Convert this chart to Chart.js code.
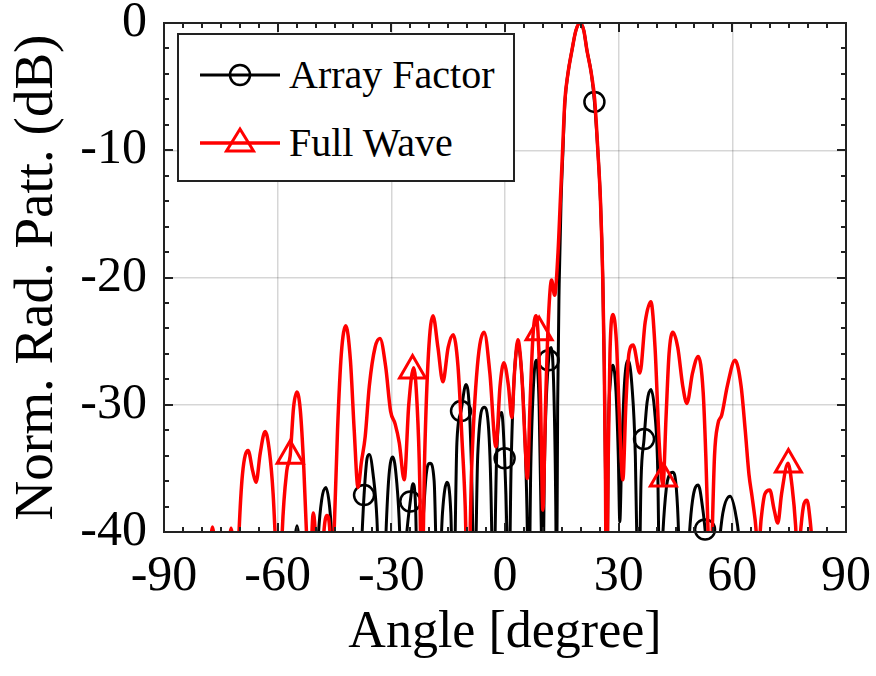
<!DOCTYPE html>
<html>
<head>
<meta charset="utf-8">
<script src="https://cdn.jsdelivr.net/npm/chart.js@4.4.1/dist/chart.umd.min.js"></script>
<style>
  html, body { margin:0; padding:0; background:#fff; }
  #wrap { position:relative; width:876px; height:676px; }
  #legend {
    position:absolute; left:177px; top:33px; width:338px; height:149px;
    box-sizing:border-box; border:2px solid #222; background:#fff;
    font-family:"Liberation Serif","Times New Roman",serif; font-size:40px; color:#000;
  }
  #legend .item { position:absolute; left:21px; height:40px; display:flex; align-items:center; white-space:nowrap; }
  #legend .item span { margin-left:7px; line-height:40px; }
</style>
</head>
<body>
<div id="wrap">
  <canvas id="chart" width="876" height="676"></canvas>
  <div id="legend">
    <div class="item" style="top:20px">
      <svg width="82" height="40"><line x1="0" y1="20" x2="80" y2="20" stroke="#000" stroke-width="3"/><circle cx="40" cy="20" r="10" fill="none" stroke="#000" stroke-width="2.5"/></svg>
      <span>Array Factor</span>
    </div>
    <div class="item" style="top:88px">
      <svg width="82" height="40"><line x1="0" y1="20" x2="80" y2="20" stroke="#f00" stroke-width="3.5"/><polygon points="40,6 53.5,28 26.5,28" fill="none" stroke="#f00" stroke-width="3"/></svg>
      <span>Full Wave</span>
    </div>
  </div>
</div>
<script>
// tick labels
const xTicks = [-90, -60, -30, 0, 30, 60, 90];
const yTicks = [-40, -30, -20, -10, 0];

// Full Wave (red)
const fwAngle = [-80,-78,-77.2,-76.4,-75,-73,-72.3,-71.5,-70.8,-70.2,-69.3,-67.8,-66.6,-65.7,-64.6,-63.3,-62.2,-61.2,-60.4,-59.6,
  -58.8,-57.6,-56.7,-55.8,-54.9,-54,-53.1,-52.4,-51.8,-50.6,-48.8,-47.8,-47,-46.2,-45.6,-45.1,-44.2,-43.2,-42,-40.8,
  -39.8,-38.8,-37.9,-36.9,-35.8,-34.3,-33,-31.5,-30.2,-29,-27.9,-26.6,-25.4,-24.1,-23.2,-22.5,-22,-21.2,-20.2,-19,
  -17.7,-16.4,-15,-13.7,-12.4,-11.3,-10.5,-9.8,-8.8,-7.3,-5.5,-4,-2.4,-1.3,-0.3,0.9,1.8,2.5,3.4,4.5,
  5.3,5.9,6.6,7.4,8.2,8.7,9.4,10,10.7,11.5,12.3,13.1,14,14.6,15.2,15.8,16.6,17.7,18.7,19.8,
  20.8,21.6,22.8,23.7,24.5,25.2,25.8,26.2,26.5,26.8,27.2,27.7,28.5,29.4,30.2,31.1,31.9,32.7,33.8,35.6,
  37,38.5,39.6,40.7,41.7,42.5,43.3,44.3,45.6,46.9,48,49.5,51,52.3,53,53.6,54.1,54.7,55.3,56.2,
  57.2,58.7,60.7,62.3,63.4,64.4,65.2,66,66.9,67.6,68.6,69.9,71,72,73,74.7,75.8,76.7,77.3,78,
  78.9,79.7,80.5,81.3,82.5];
const fwDb = [-50,-42,-39.6,-42,-50,-42,-39.7,-42,-45,-40,-35.5,-33.6,-35.2,-36.1,-33.8,-32.1,-33.6,-37,-42,-48,
  -40,-35.2,-34,-30.2,-29,-30.5,-35,-40,-46,-38.5,-46,-40,-38.7,-40,-46,-40,-32,-26,-23.8,-26.5,
  -32,-36.5,-34.5,-32.5,-28.5,-25.5,-24.8,-27,-30.5,-31.5,-33,-35.9,-30,-27.1,-30,-36,-46,-34,-26,-23,
  -25.5,-28.2,-25.5,-24.5,-27,-33,-38,-46,-35,-27,-24.3,-27.5,-33.3,-28.5,-26.7,-28.5,-31,-27.5,-24.9,-28,
  -33,-35.8,-30,-24.5,-23,-24.3,-30,-38.3,-30,-23,-20.2,-21.4,-18,-14,-10,-6.1,-4,-2.1,-0.6,0,
  -0.6,-2.1,-4,-6.1,-10,-14,-20,-27,-35,-48,-35,-26,-22.9,-25,-31,-35.9,-30,-26,-25.3,-27.5,
  -23.5,-21.9,-25.5,-33,-36.3,-31,-26,-24.3,-25.5,-28.5,-29.9,-27.5,-26.2,-29,-34,-40,-48,-40,-34,-31.5,
  -30.8,-28.5,-26.5,-28.5,-32,-35.5,-37.2,-39,-41.5,-39,-37,-36.7,-38.2,-39.3,-37,-34.6,-36.5,-39.5,-43,-40,
  -37.8,-37.5,-39,-42,-50];

// Array Factor (black)
const afAngle = [-58,-56,-55.4,-54.9,-54.4,-53.8,-52,-50,-49.3,-48.4,-47.3,-46.3,-45.6,-45,-43,-41,-38.6,-37.7,-37.2,-36.4,
  -35.8,-34.8,-33.8,-33,-32.2,-31.4,-30.6,-29.6,-28.6,-27.8,-27.3,-25.9,-25,-24.3,-23.6,-23,-21.8,-20.8,-19.8,-18.7,
  -17.7,-16.5,-15.3,-14.3,-13.6,-12.7,-11.6,-10.3,-9.3,-8.5,-8.2,-7.2,-5.5,-4.3,-3.5,-3.2,-2.2,-0.9,-0.1,0.5,
  0.9,1.6,2.4,3.4,4.4,5.3,5.9,6.2,6.8,7.6,8.3,9,9.6,9.9,10.4,11.5,12.2,12.9,13.4,13.6,
  13.9,14.3,14.8,15.3,15.8,16.6,17.7,18.7,19.8,20.8,21.6,22.8,23.6,24.5,25.2,25.8,26.2,26.5,26.8,27.3,
  27.8,28.5,29.3,29.9,30.3,30.8,31.5,32.5,33.5,34.4,35,35.3,35.9,36.7,37.5,38.5,39.5,40.3,40.9,41.6,
  42.6,43.4,44.3,45.2,45.8,46.2,47.5,48.5,49.5,51,52.2,52.8,53.4,54,56.3,57.5,59.4,61,61.9,63,65];
const afDb = [-50,-44,-40.5,-39.5,-40.5,-44,-50,-46,-40.5,-37.5,-36.5,-38,-41,-46,-50,-46,-46,-40,-37.1,-34.2,
  -33.9,-35.5,-39,-46,-48,-40,-35.5,-34.1,-36,-40,-46,-40,-37.6,-36.2,-38,-46,-40,-35.5,-34.6,-36,
  -46,-38.5,-36.1,-38.5,-46,-33,-30.5,-28.4,-31,-40,-48,-34,-30.2,-32,-40,-48,-34,-30.6,-34.2,-40,
  -48,-35,-28,-25.3,-27.5,-33,-40,-48,-35,-28,-26.5,-30,-40,-48,-35,-26.5,-25.5,-29,-38,-46,
  -30,-20.5,-14,-10,-6.3,-4,-2.1,-0.6,0,-0.6,-2.1,-4,-6.2,-10,-14,-20,-27,-35,-48,-32,
  -28.2,-26.9,-29,-34,-39.2,-34,-28.5,-26.5,-28.5,-34,-44,-46,-36,-32.7,-29.8,-28.8,-30.5,-35,-46,-40.5,
  -36.5,-35.5,-35.3,-36.5,-40,-46,-48,-41,-37.5,-36.3,-38.2,-39.8,-42,-48,-41.5,-38.5,-37.2,-38.8,-41,-48,-50];

// marker positions
const fwMarkAngle = [-56.7, -24.4, 9.0, 41.8, 74.8];
const fwMarkDb = [-34.0, -27.3, -24.3, -35.8, -34.7];
const afMarkAngle = [-37.2, -25.0, -11.6, -0.1, 11.5, 23.6, 36.7, 52.8];
const afMarkDb = [-37.1, -37.6, -30.5, -34.2, -26.5, -6.2, -32.7, -39.8];

const pts = (xs, ys) => xs.map((x, i) => ({x, y: ys[i]}));
const serif = '"Liberation Serif","Times New Roman",serif';

// keep the plot box where it is in the figure: no automatic label padding
function noPad(s){ s.paddingTop = 0; s.paddingBottom = 0; s.paddingLeft = 0; s.paddingRight = 0; }

// box + inward ticks on all four sides, MATLAB style
const frameTicks = {
  id: 'frameTicks',
  afterDatasetsDraw(chart){
    const {ctx, chartArea:a, scales:{x, y}} = chart;
    ctx.save();
    ctx.strokeStyle = '#222';
    ctx.lineWidth = 2;
    ctx.beginPath();
    for(let v = -90; v <= 90; v += 5){
      const px = Math.round(x.getPixelForValue(v));
      const len = v % 30 === 0 ? 9 : 5;
      ctx.moveTo(px, a.bottom); ctx.lineTo(px, a.bottom - len);
      ctx.moveTo(px, a.top); ctx.lineTo(px, a.top + len);
    }
    for(let v = -40; v <= 0; v += 2){
      const py = Math.round(y.getPixelForValue(v));
      const len = v % 10 === 0 ? 9 : 5;
      ctx.moveTo(a.left, py); ctx.lineTo(a.left + len, py);
      ctx.moveTo(a.right, py); ctx.lineTo(a.right - len, py);
    }
    ctx.stroke();
    ctx.strokeRect(a.left, a.top, a.right - a.left, a.bottom - a.top);
    ctx.restore();
  }
};

new Chart(document.getElementById('chart'), {
  type: 'line',
  data: {
    datasets: [
      { label:'Full Wave', data: pts(fwAngle, fwDb), borderColor:'#f00', borderWidth:3.5,
        pointRadius:0, cubicInterpolationMode:'monotone', order:1 },
      { label:'Full Wave markers', data: pts(fwMarkAngle, fwMarkDb), showLine:false, pointStyle:'triangle',
        pointRadius:15, borderColor:'#f00', pointBorderWidth:3, backgroundColor:'rgba(0,0,0,0)', clip:false, order:0 },
      { label:'Array Factor', data: pts(afAngle, afDb), borderColor:'#000', borderWidth:3,
        pointRadius:0, cubicInterpolationMode:'monotone', order:3 },
      { label:'Array Factor markers', data: pts(afMarkAngle, afMarkDb), showLine:false, pointStyle:'circle',
        pointRadius:10, borderColor:'#000', pointBorderWidth:2.5, backgroundColor:'rgba(0,0,0,0)', clip:false, order:2 },
    ]
  },
  options: {
    responsive:false,
    animation:false,
    layout:{ padding:{ top:23, right:30, left:0, bottom:0 } },
    plugins:{ legend:{display:false}, tooltip:{enabled:false} },
    scales:{
      x:{
        type:'linear', min:-90, max:90,
        afterBuildTicks: s => { s.ticks = xTicks.map(v => ({value:v})); },
        afterFit: s => { s.height = 144; noPad(s); },
        grid:{ color:'rgba(0,0,0,0.16)', lineWidth:1.5, drawTicks:false },
        border:{ display:false },
        ticks:{ color:'#000', padding:22, maxRotation:0, font:{ family:serif, size:50, lineHeight:0.9 } },
        title:{ display:true, text:'Angle [degree]', color:'#000', padding:{top:0, bottom:11},
          font:{ family:serif, size:52 } }
      },
      y:{
        min:-40, max:0,
        afterBuildTicks: s => { s.ticks = yTicks.map(v => ({value:v})); },
        afterFit: s => { s.width = 164; noPad(s); },
        grid:{ color:'rgba(0,0,0,0.16)', lineWidth:1.5, drawTicks:false },
        border:{ display:false },
        ticks:{ color:'#000', padding:17, font:{ family:serif, size:50, lineHeight:0.9 } },
        title:{ display:true, text:'Norm. Rad. Patt. (dB)', color:'#000', padding:{top:5, bottom:0},
          font:{ family:serif, size:55 } }
      }
    }
  },
  plugins:[frameTicks]
});
</script>
</body>
</html>
